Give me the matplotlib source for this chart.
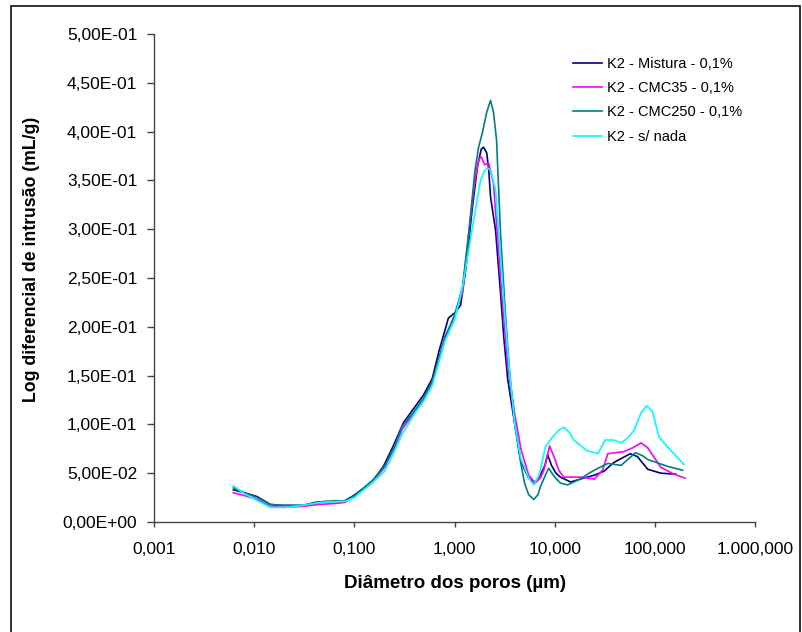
import matplotlib
matplotlib.use("Agg")
import matplotlib.pyplot as plt
from matplotlib.patches import Rectangle
from matplotlib.ticker import FixedLocator, FixedFormatter, NullLocator

plt.rcParams['font.family'] = ['Liberation Sans', 'DejaVu Sans']

# ---- data ----
mist_d = [0.0062, 0.008, 0.0107, 0.0145, 0.018, 0.023, 0.031, 0.04, 0.05, 0.065, 0.078, 0.098, 0.125, 0.155,
          0.195, 0.245, 0.31, 0.39, 0.49, 0.60, 0.70, 0.78, 0.87, 1.0, 1.15, 1.3, 1.5, 1.7, 1.85, 1.95, 2.1,
          2.2, 2.29, 2.57, 2.88, 3.1, 3.4, 4.0, 4.6, 5.5, 6.3, 7.2, 8.0, 8.5, 9.3, 10.3, 11.4, 14.4, 19.5,
          25, 31, 39, 48, 57, 67, 85, 115, 162]
mist_v = [0.033, 0.030, 0.026, 0.018, 0.017, 0.017, 0.017, 0.020, 0.021, 0.021, 0.021, 0.027, 0.035, 0.043,
          0.057, 0.078, 0.102, 0.116, 0.130, 0.147, 0.175, 0.192, 0.209, 0.214, 0.222, 0.26, 0.32, 0.365, 0.382,
          0.384, 0.378, 0.36, 0.333, 0.299, 0.235, 0.19, 0.146, 0.10, 0.062, 0.045, 0.040, 0.048, 0.058, 0.069,
          0.058, 0.050, 0.046, 0.041, 0.045, 0.048, 0.052, 0.061, 0.066, 0.070, 0.067, 0.054, 0.050, 0.049]

cmc35_d = [0.0062, 0.008, 0.0107, 0.0145, 0.02, 0.03, 0.045, 0.065, 0.08, 0.1, 0.15, 0.2, 0.25, 0.3, 0.4,
           0.5, 0.6, 0.8, 1.0, 1.2, 1.4, 1.6, 1.75, 1.85, 2.0, 2.19, 2.45, 2.7, 3.0, 3.4, 4.0, 4.6, 5.5, 6.4,
           7.2, 7.8, 8.9, 10, 11, 12.3, 18, 25, 30, 34, 49, 60, 73, 85, 115, 155, 200]
cmc35_v = [0.030, 0.027, 0.023, 0.016, 0.015, 0.016, 0.018, 0.019, 0.020, 0.026, 0.040, 0.056, 0.075, 0.095,
           0.113, 0.126, 0.142, 0.19, 0.21, 0.235, 0.30, 0.35, 0.372, 0.374, 0.366, 0.368, 0.347, 0.29, 0.227,
           0.16, 0.11, 0.075, 0.048, 0.040, 0.045, 0.053, 0.078, 0.065, 0.053, 0.046, 0.046, 0.044, 0.053,
           0.070, 0.072, 0.076, 0.081, 0.076, 0.056, 0.049, 0.045]

cmc250_d = [0.0062, 0.008, 0.0107, 0.0145, 0.02, 0.03, 0.045, 0.065, 0.08, 0.1, 0.15, 0.2, 0.25, 0.3, 0.4,
            0.5, 0.6, 0.8, 1.0, 1.2, 1.4, 1.6, 1.74, 1.9, 2.1, 2.29, 2.45, 2.63, 2.88, 3.16, 3.5, 4.0, 4.6,
            5.0, 5.5, 6.2, 6.8, 7.2, 8.0, 8.7, 10, 11.4, 13.4, 18, 22, 27, 34, 46, 55, 64, 75, 85, 134, 190]
cmc250_v = [0.035, 0.030, 0.025, 0.018, 0.017, 0.017, 0.020, 0.022, 0.021, 0.027, 0.042, 0.057, 0.077, 0.098,
            0.114, 0.128, 0.144, 0.188, 0.212, 0.24, 0.30, 0.36, 0.384, 0.399, 0.42, 0.432, 0.420, 0.391,
            0.296, 0.227, 0.16, 0.10, 0.06, 0.040, 0.028, 0.023, 0.028, 0.036, 0.047, 0.055, 0.046, 0.040,
            0.038, 0.044, 0.050, 0.055, 0.060, 0.058, 0.065, 0.071, 0.068, 0.064, 0.057, 0.053]

nada_d = [0.0062, 0.008, 0.0107, 0.0145, 0.02, 0.025, 0.03, 0.045, 0.065, 0.08, 0.1, 0.15, 0.2, 0.25, 0.3,
          0.4, 0.5, 0.6, 0.8, 1.0, 1.2, 1.5, 1.82, 2.0, 2.14, 2.3, 2.57, 2.8, 3.1, 3.5, 4.0, 4.6, 5.5, 6.2,
          7.0, 8.1, 9.5, 11, 12.3, 14, 15.5, 21, 27, 32, 39, 46, 55, 62, 73, 83, 95, 110, 134, 195]
nada_v = [0.037, 0.029, 0.022, 0.015, 0.015, 0.016, 0.017, 0.020, 0.021, 0.021, 0.025, 0.040, 0.052, 0.072,
          0.090, 0.111, 0.125, 0.140, 0.185, 0.207, 0.24, 0.30, 0.350, 0.36, 0.363, 0.36, 0.340, 0.29, 0.227,
          0.16, 0.10, 0.065, 0.045, 0.038, 0.048, 0.077, 0.087, 0.094, 0.097, 0.092, 0.084, 0.073, 0.070,
          0.084, 0.084, 0.081, 0.087, 0.094, 0.112, 0.119, 0.113, 0.087, 0.077, 0.059]

labels = ["K2 - Mistura - 0,1%", "K2 - CMC35 - 0,1%", "K2 - CMC250 - 0,1%", "K2 - s/ nada"]
colors = ["#000080", "#FF00FF", "#008080", "#00FFFF"]

x_ticks = [0.001, 0.01, 0.1, 1, 10, 100, 1000]
x_ticklabels = ["0,001", "0,010", "0,100", "1,000", "10,000", "100,000", "1.000,000"]
y_ticks = [0.0, 0.05, 0.10, 0.15, 0.20, 0.25, 0.30, 0.35, 0.40, 0.45, 0.50]
y_ticklabels = ["0,00E+00", "5,00E-02", "1,00E-01", "1,50E-01", "2,00E-01", "2,50E-01",
                "3,00E-01", "3,50E-01", "4,00E-01", "4,50E-01", "5,00E-01"]

# ---- figure ----
fig = plt.figure(figsize=(8.02, 6.32), dpi=100)
ax = fig.add_axes([154/802, 1-522/632, (755-154)/802, (522-34)/632])

series = [(mist_d, mist_v), (cmc35_d, cmc35_v), (cmc250_d, cmc250_v), (nada_d, nada_v)]
for (d, v), lab, col in zip(series, labels, colors):
    ax.plot(d, v, color=col, lw=1.2, label=lab)

ax.set_xscale('log')
ax.set_xlim(0.001, 1000)
ax.set_ylim(0, 0.5)
ax.xaxis.set_major_locator(FixedLocator(x_ticks))
ax.xaxis.set_major_formatter(FixedFormatter(x_ticklabels))
ax.xaxis.set_minor_locator(NullLocator())
ax.yaxis.set_major_locator(FixedLocator(y_ticks))
ax.yaxis.set_major_formatter(FixedFormatter(y_ticklabels))

for s in ['top', 'right']:
    ax.spines[s].set_visible(False)
for s in ['left', 'bottom']:
    ax.spines[s].set_color('#444444')
    ax.spines[s].set_linewidth(1.0)

ax.tick_params(axis='both', direction='out', width=1.0, color='#444444',
               labelsize=12.5, labelcolor='black')
ax.tick_params(axis='x', length=3.6, pad=11)
ax.tick_params(axis='y', length=5, pad=7)

ax.set_xlabel("Diâmetro dos poros (µm)", fontsize=13.5, fontweight='bold')
ax.set_ylabel("Log diferencial de intrusão (mL/g)", fontsize=12.7, fontweight='bold')
ax.xaxis.set_label_coords((455-154)/601, (522-575)/488)
ax.yaxis.set_label_coords((40-154)/601, (522-259)/488)

leg = ax.legend(loc='upper left', bbox_to_anchor=(573/802, 1-57/632), bbox_transform=fig.transFigure,
                frameon=False, fontsize=10.5, handlelength=2.0, handletextpad=0.35, labelspacing=0.7,
                borderaxespad=0, borderpad=0)

fig.add_artist(Rectangle((11/802, -0.02), (800-11)/802, 1.02-6/632, transform=fig.transFigure,
                         fill=False, edgecolor='#222222', linewidth=1.3))

fig.savefig("out.png", dpi=100)
